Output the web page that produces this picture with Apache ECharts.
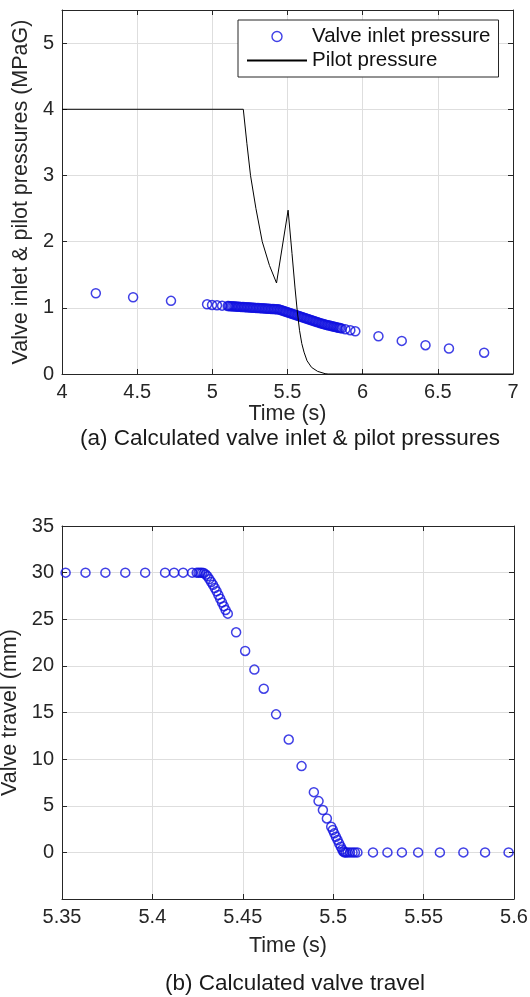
<!DOCTYPE html>
<html>
<head>
<meta charset="utf-8">
<script src="https://cdn.jsdelivr.net/npm/echarts@6.0.0/dist/echarts.min.js"></script>
<style>
  html, body { margin: 0; padding: 0; background: #fff; }
  #chart { width: 530px; height: 997px; }
</style>
</head>
<body>
<div id="chart"></div>
<script>
// (a) valve inlet pressure (s, MPaG)
const inletT = [4.225, 4.473, 4.725, 4.965, 4.998, 5.031, 5.065, 5.102,
  5.11, 5.12, 5.13, 5.14, 5.15, 5.16, 5.17, 5.18, 5.19, 5.20,
  5.21, 5.22, 5.23, 5.24, 5.25, 5.26, 5.27, 5.28, 5.29, 5.30,
  5.31, 5.32, 5.33, 5.34, 5.35, 5.36, 5.37, 5.38, 5.39, 5.40,
  5.41, 5.42, 5.43, 5.44, 5.45, 5.46, 5.47, 5.48, 5.49, 5.50,
  5.51, 5.52, 5.53, 5.54, 5.55, 5.56, 5.57, 5.58, 5.59, 5.60,
  5.61, 5.62, 5.63, 5.64, 5.65, 5.66, 5.67, 5.68, 5.69, 5.70,
  5.71, 5.72, 5.73, 5.74, 5.75, 5.76, 5.77, 5.78, 5.79, 5.80,
  5.81, 5.82, 5.83, 5.84, 5.85, 5.86,
  5.885, 5.918, 5.951, 6.105, 6.26, 6.418, 6.574, 6.808];
const inletP = [1.22, 1.16, 1.105, 1.053, 1.043, 1.038, 1.033, 1.028,
  1.026, 1.025, 1.023, 1.022, 1.020, 1.019, 1.017, 1.016, 1.014, 1.013,
  1.011, 1.010, 1.008, 1.007, 1.005, 1.004, 1.002, 1.001, 0.999, 0.998,
  0.996, 0.995, 0.993, 0.992, 0.990, 0.989, 0.987, 0.986, 0.984, 0.983,
  0.981, 0.980, 0.978, 0.977, 0.970, 0.962, 0.955, 0.947, 0.940, 0.932,
  0.925, 0.917, 0.910, 0.902, 0.895, 0.887, 0.880, 0.872, 0.865, 0.857,
  0.850, 0.842, 0.835, 0.828, 0.820, 0.813, 0.805, 0.798, 0.790, 0.783,
  0.776, 0.768, 0.761, 0.754, 0.748, 0.742, 0.736, 0.731, 0.726, 0.720,
  0.715, 0.710, 0.704, 0.699, 0.694, 0.689,
  0.677, 0.662, 0.645, 0.57, 0.50, 0.435, 0.385, 0.322];

// (a) pilot pressure
const pilotT = [4.0, 5.206, 5.23, 5.254, 5.29, 5.332, 5.38, 5.427, 5.504,
  5.53, 5.55, 5.565, 5.58, 5.595, 5.61, 5.63, 5.66, 5.70, 5.75, 5.77, 7.0];
const pilotP = [4.0, 4.0, 3.48, 3.0, 2.5, 2.0, 1.64, 1.375, 2.475,
  1.82, 1.3, 0.95, 0.66, 0.46, 0.33, 0.2, 0.1, 0.04, 0.005, 0, 0];

// (b) valve travel (s, mm)
const travelT = [5.352, 5.363, 5.374, 5.385, 5.396, 5.407, 5.412, 5.417, 5.422,
  5.4245, 5.4255, 5.4265, 5.4275, 5.4285, 5.4295, 5.4305, 5.4315, 5.4325,
  5.4335, 5.4345, 5.4355, 5.4365, 5.4375, 5.4385, 5.4395, 5.4405, 5.4417,
  5.4463, 5.4513, 5.4564, 5.4616, 5.4684, 5.4754, 5.4825,
  5.4893, 5.4919, 5.4943, 5.4965, 5.4989,
  5.4998, 5.5006, 5.5015, 5.5024, 5.5033, 5.5042, 5.505, 5.5056, 5.5062,
  5.507, 5.508, 5.5093, 5.5107, 5.512, 5.5134,
  5.522, 5.530, 5.538, 5.547, 5.559, 5.572, 5.584, 5.597];
const travelMm = [30, 30, 30, 30, 30, 30, 30, 30, 30,
  30, 30, 30, 30, 29.95, 29.8, 29.6, 29.3, 29.0,
  28.7, 28.35, 28.0, 27.6, 27.2, 26.8, 26.4, 26.0, 25.6,
  23.6, 21.6, 19.6, 17.55, 14.8, 12.1, 9.25,
  6.46, 5.5, 4.54, 3.64, 2.75,
  2.4, 2.04, 1.68, 1.32, 0.95, 0.6, 0.3, 0.1, 0,
  0, 0, 0, 0, 0, 0,
  0, 0, 0, 0, 0, 0, 0, 0];

const seriesNames = ['Valve inlet pressure', 'Pilot pressure'];
const captions = ['(a) Calculated valve inlet & pilot pressures', '(b) Calculated valve travel'];

const FONT = 'Liberation Sans, Arial, sans-serif';
const AXIS_COLOR = '#262626';
const GRID_COLOR = '#dedede';
const MARK_COLOR = '#1010e0';

const zip = (xs, ys) => xs.map((x, i) => [x, ys[i]]);

// main axis (labels + grid) or the mirrored box side (ticks only)
function makeAxis(gridIndex, position, min, max, interval, main, extra) {
  return Object.assign({
    gridIndex: gridIndex,
    type: 'value',
    position: position,
    min: min,
    max: max,
    interval: interval,
    axisLine: { show: true, onZero: false, lineStyle: { color: AXIS_COLOR, width: 1 } },
    axisTick: { show: true, inside: true, length: 5, lineStyle: { color: AXIS_COLOR } },
    axisLabel: {
      show: main,
      color: AXIS_COLOR,
      fontFamily: FONT,
      fontSize: 20,
      margin: 8
    },
    splitLine: { show: main, lineStyle: { color: GRID_COLOR, width: 1 } },
    nameTextStyle: { color: AXIS_COLOR, fontFamily: FONT, fontSize: 21.5 }
  }, extra || {});
}

const chart = echarts.init(document.getElementById('chart'));

const option = {
  backgroundColor: '#fff',
  animation: false,
  grid: [
    { left: 62, top: 10, width: 451, height: 364, outerBoundsMode: 'none' },
    { left: 62, top: 526, width: 452, height: 373, outerBoundsMode: 'none' }
  ],
  legend: {
    data: [
      { name: seriesNames[0], icon: 'circle',
        itemStyle: { color: 'rgba(0,0,0,0)', borderColor: MARK_COLOR, borderWidth: 1.4 } },
      { name: seriesNames[1],
        itemStyle: { color: 'rgba(0,0,0,0)', borderColor: 'rgba(0,0,0,0)', borderWidth: 0 } }
    ],
    orient: 'vertical',
    left: 238,
    top: 20,
    itemWidth: 60,
    itemHeight: 10,
    itemGap: 3,
    padding: [6, 8, 6, 8],
    borderColor: AXIS_COLOR,
    borderWidth: 1,
    backgroundColor: '#fff',
    textStyle: { color: '#111', fontFamily: FONT, fontSize: 20.5 }
  },
  xAxis: [
    makeAxis(0, 'bottom', 4, 7, 0.5, true,
      { name: 'Time (s)', nameLocation: 'middle', nameGap: 28 }),
    makeAxis(0, 'top', 4, 7, 0.5, false),
    makeAxis(1, 'bottom', 5.35, 5.6, 0.05, true,
      { name: 'Time (s)', nameLocation: 'middle', nameGap: 36 }),
    makeAxis(1, 'top', 5.35, 5.6, 0.05, false)
  ],
  yAxis: [
    makeAxis(0, 'left', 0, 5.5, 1, true,
      { name: 'Valve inlet & pilot pressures (MPaG)', nameLocation: 'middle', nameGap: 30 }),
    makeAxis(0, 'right', 0, 5.5, 1, false),
    makeAxis(1, 'left', -5, 35, 5, true,
      { name: 'Valve travel (mm)', nameLocation: 'middle', nameGap: 38 }),
    makeAxis(1, 'right', -5, 35, 5, false)
  ],
  series: [
    {
      name: seriesNames[0],
      type: 'scatter',
      xAxisIndex: 0,
      yAxisIndex: 0,
      symbol: 'circle',
      symbolSize: 9,
      itemStyle: { color: 'rgba(0,0,0,0)', borderColor: MARK_COLOR, borderWidth: 1.5 },
      emphasis: { disabled: true },
      data: zip(inletT, inletP)
    },
    {
      name: seriesNames[1],
      type: 'line',
      xAxisIndex: 0,
      yAxisIndex: 0,
      symbol: 'none',
      z: 5,
      itemStyle: { color: '#000' },
      lineStyle: { color: '#000', width: 1 },
      emphasis: { disabled: true },
      data: zip(pilotT, pilotP)
    },
    {
      name: 'Valve travel',
      type: 'scatter',
      xAxisIndex: 2,
      yAxisIndex: 2,
      symbol: 'circle',
      symbolSize: 9,
      itemStyle: { color: 'rgba(0,0,0,0)', borderColor: MARK_COLOR, borderWidth: 1.5 },
      emphasis: { disabled: true },
      data: zip(travelT, travelMm)
    }
  ],
  graphic: [
    { type: 'text', x: 290, y: 439,
      style: { text: captions[0], fill: '#1a1a1a', font: '22.5px ' + FONT, align: 'center', verticalAlign: 'middle' } },
    { type: 'text', x: 295, y: 984,
      style: { text: captions[1], fill: '#1a1a1a', font: '22.5px ' + FONT, align: 'center', verticalAlign: 'middle' } }
  ]
};

// hide the -5 and 5.5 end labels like the reference
option.yAxis[0].axisLabel.showMaxLabel = false;
option.yAxis[2].axisLabel.showMinLabel = false;

chart.setOption(option);
</script>
</body>
</html>
